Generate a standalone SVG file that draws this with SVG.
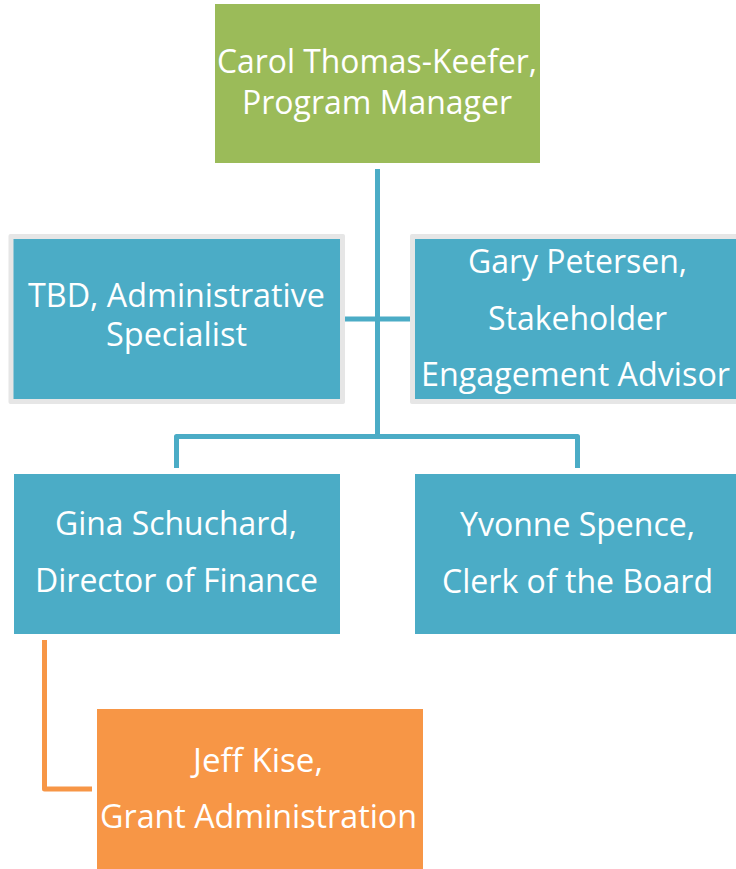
<svg xmlns="http://www.w3.org/2000/svg" width="736" height="869" viewBox="0 0 736 869">
  <style>
    .lbl { font-family: "Open Sans", "Noto Sans", "Liberation Sans", sans-serif; font-size: 32px; fill: #ffffff; text-anchor: middle; }
    .green { fill: #9BBB59; }
    .blue { fill: #4BACC6; }
    .orange { fill: #F79646; }
    .frame { fill: #E6E6E6; }
    .link { fill: none; stroke: #4BACC6; stroke-width: 5; stroke-linejoin: round; }
    .link-sub { fill: none; stroke: #F79646; stroke-width: 5; stroke-linejoin: round; }
  </style>

  <!-- connectors -->
  <g id="connectors">
    <path class="link" d="M377.5 169 V436.5"/>
    <path class="link" d="M345 319 H410"/>
    <path class="link" d="M176.5 468 V436.5 H577.5 V468"/>
    <path class="link-sub" d="M44.5 640 V789 H92"/>
  </g>

  <!-- program manager -->
  <g id="node-program-manager">
    <rect class="green" x="215" y="4" width="325" height="159"/>
    <text class="lbl" x="377" y="73" textLength="320" lengthAdjust="spacingAndGlyphs">Carol Thomas-Keefer,</text>
    <text class="lbl" x="377" y="114" textLength="270" lengthAdjust="spacingAndGlyphs">Program Manager</text>
  </g>

  <!-- assistant: administrative specialist -->
  <g id="node-admin-specialist">
    <rect class="frame" x="8.5" y="234" width="336.5" height="170" rx="2"/>
    <rect class="blue" x="13.5" y="239" width="326.5" height="160"/>
    <text class="lbl" x="176.5" y="307" textLength="297" lengthAdjust="spacingAndGlyphs">TBD, Administrative</text>
    <text class="lbl" x="176.5" y="346" textLength="141" lengthAdjust="spacingAndGlyphs">Specialist</text>
  </g>

  <!-- assistant: stakeholder engagement advisor -->
  <g id="node-engagement-advisor">
    <rect class="frame" x="410" y="234" width="340" height="170" rx="2"/>
    <rect class="blue" x="415" y="239" width="330" height="160"/>
    <text class="lbl" x="577.5" y="273" textLength="219" lengthAdjust="spacingAndGlyphs">Gary Petersen,</text>
    <text class="lbl" x="577.5" y="330" textLength="179" lengthAdjust="spacingAndGlyphs">Stakeholder</text>
    <text class="lbl" x="575.5" y="386" textLength="309" lengthAdjust="spacingAndGlyphs">Engagement Advisor</text>
  </g>

  <!-- director of finance -->
  <g id="node-finance">
    <rect class="blue" x="14" y="474" width="326" height="160"/>
    <text class="lbl" x="176" y="535" textLength="242" lengthAdjust="spacingAndGlyphs">Gina Schuchard,</text>
    <text class="lbl" x="176.5" y="592" textLength="283" lengthAdjust="spacingAndGlyphs">Director of Finance</text>
  </g>

  <!-- clerk of the board -->
  <g id="node-clerk">
    <rect class="blue" x="415" y="474" width="330" height="160"/>
    <text class="lbl" x="577.5" y="536" textLength="235" lengthAdjust="spacingAndGlyphs">Yvonne Spence,</text>
    <text class="lbl" x="577.5" y="593" textLength="271" lengthAdjust="spacingAndGlyphs">Clerk of the Board</text>
  </g>

  <!-- grant administration -->
  <g id="node-grants">
    <rect class="orange" x="97" y="709" width="326" height="165"/>
    <text class="lbl" x="258" y="772" textLength="130" lengthAdjust="spacingAndGlyphs">Jeff Kise,</text>
    <text class="lbl" x="258.5" y="828" textLength="317" lengthAdjust="spacingAndGlyphs">Grant Administration</text>
  </g>
</svg>
